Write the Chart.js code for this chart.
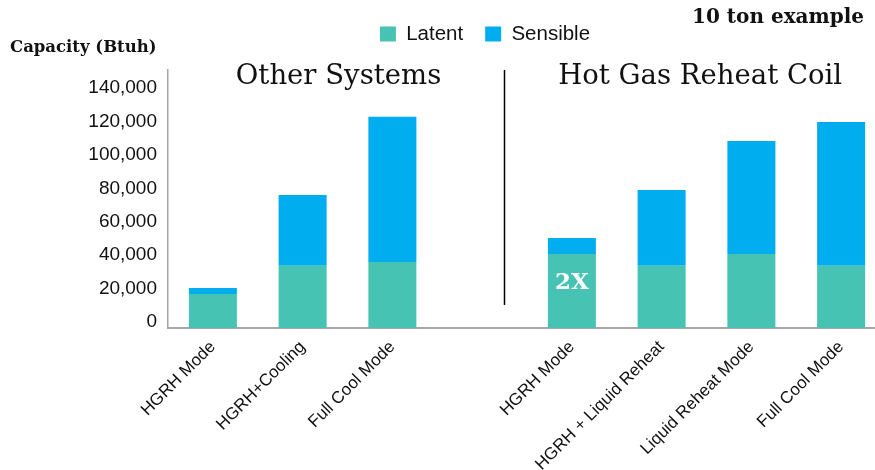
<!DOCTYPE html>
<html>
<head>
<meta charset="utf-8">
<script src="https://cdn.jsdelivr.net/npm/chart.js@4.4.1/dist/chart.umd.min.js"></script>
<style>
  html, body { margin: 0; padding: 0; background: #fff; overflow: hidden; }
</style>
</head>
<body>
<canvas id="capChart" width="886" height="470"></canvas>
<script>
/* ---------- DATA ---------- */
const categories = ["HGRH Mode", "HGRH+Cooling", "Full Cool Mode", "", "HGRH Mode", "HGRH + Liquid Reheat", "Liquid Reheat Mode", "Full Cool Mode"];
const latent   = [20400, 37300, 39500, null, 44300, 37300, 44300, 37300];
const sensible = [3600, 42300, 87000, null, 9600, 45300, 67700, 86100];
const yTicks = [0, 20000, 40000, 60000, 80000, 100000, 120000, 140000];
const groupTitles = ["Other Systems", "Hot Gas Reheat Coil"];

const TEAL = "#47c3b3";
const BLUE = "#00adef";
const SERIF = "'DejaVu Serif', serif";
const SANS = "'Liberation Sans', Arial, sans-serif";

/* ---------- TITLES, DIVIDER, 2X ---------- */
const notes = {
  id: "notes",
  afterLayout(chart) {
    // legend sits off-centre and higher than chart.js would put it
    const lg = chart.legend;
    const dx = 485 - (lg.left + lg.right) / 2;
    const dy = 34 - (lg.top + 22 + 10.25);
    lg.left += dx; lg.right += dx;
    lg.top += dy; lg.bottom += dy;
  },
  afterDraw(chart) {
    const ctx = chart.ctx;
    const x = chart.scales.x, y = chart.scales.y;
    ctx.save();
    ctx.fillStyle = "#111";
    ctx.textBaseline = "middle";

    ctx.font = "bold 20px " + SERIF;
    ctx.textAlign = "right";
    ctx.fillText("10 ton example", 864, 18);

    ctx.font = "bold 16.5px " + SERIF;
    ctx.textAlign = "left";
    ctx.fillText("Capacity (Btuh)", 10, 48);

    ctx.font = "27.5px " + SERIF;
    ctx.textAlign = "center";
    ctx.fillText(groupTitles[0], x.getPixelForValue(1.4), y.getPixelForValue(150500));
    ctx.fillText(groupTitles[1], x.getPixelForValue(5.43), y.getPixelForValue(150500));

    // divider between the two groups
    const dX = Math.round(x.getPixelForValue(3.24)) + 0.5;
    ctx.strokeStyle = "#000";
    ctx.lineWidth = 1.5;
    ctx.beginPath();
    ctx.moveTo(dX, y.getPixelForValue(y.max));
    ctx.lineTo(dX, y.getPixelForValue(13800));
    ctx.stroke();

    ctx.fillStyle = "#fff";
    ctx.font = "bold 23px " + SERIF;
    ctx.fillText("2X", x.getPixelForValue(4), y.getPixelForValue(27000));
    ctx.restore();
  }
};

/* ---------- CHART ---------- */
new Chart(document.getElementById("capChart"), {
  type: "bar",
  data: {
    labels: categories,
    datasets: [
      { label: "Latent", data: latent, backgroundColor: TEAL, borderWidth: 0 },
      { label: "Sensible", data: sensible, backgroundColor: BLUE, borderWidth: 0 }
    ]
  },
  options: {
    responsive: false,
    animation: false,
    layout: { padding: { top: 17.5, left: 10, right: 0, bottom: 0 } },
    datasets: { bar: { categoryPercentage: 1, barPercentage: 0.535 } },
    plugins: {
      tooltip: { enabled: false },
      legend: {
        position: "top",
        labels: {
          boxWidth: 16,
          boxHeight: 15,
          padding: 22,
          color: "#111",
          font: { family: SANS, size: 20.5 }
        }
      }
    },
    scales: {
      x: {
        stacked: true,
        grid: { display: false, drawTicks: false },
        border: { color: "#a6a6a6", width: 2 },
        ticks: {
          autoSkip: false,
          minRotation: 45,
          maxRotation: 45,
          padding: 9,
          color: "#111",
          font: { family: SANS, size: 17 }
        },
        afterFit(scale) { scale.height = 142; }
      },
      y: {
        stacked: true,
        min: 0,
        max: 154500,
        grid: { display: false, drawTicks: false },
        border: { color: "#a6a6a6", width: 1.5 },
        afterBuildTicks(scale) {
          scale.ticks = yTicks.map(v => ({ value: v }));
        },
        ticks: {
          padding: 11,
          labelOffset: -6,
          color: "#111",
          font: { family: SANS, size: 19 },
          callback: v => v.toLocaleString("en-US")
        },
        afterFit(scale) { scale.width = 158; }
      }
    }
  },
  plugins: [notes]
});
</script>
</body>
</html>
